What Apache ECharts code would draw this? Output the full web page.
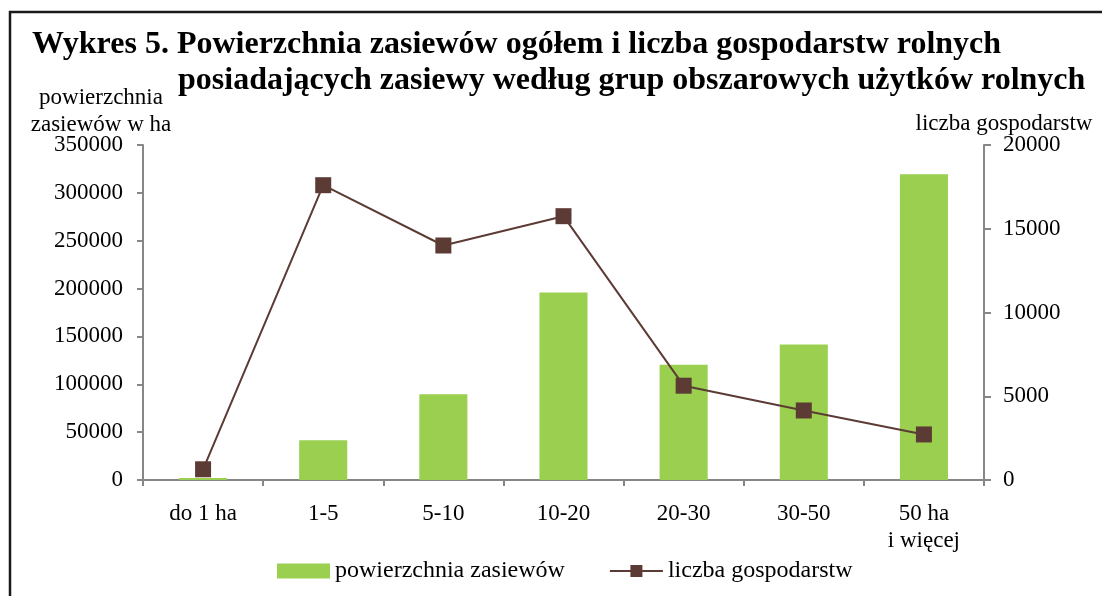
<!DOCTYPE html>
<html>
<head>
<meta charset="utf-8">
<script src="https://cdn.jsdelivr.net/npm/echarts@6/dist/echarts.min.js"></script>
<style>
  html, body { margin: 0; padding: 0; background: #fff; }
  #chart { width: 1102px; height: 596px; }
</style>
</head>
<body>
<div id="chart"></div>
<script>
// grupy obszarowe
var categories = ["do 1 ha", "1-5", "5-10", "10-20", "20-30", "30-50", "50 ha\ni więcej"];
// powierzchnia zasiewów w ha
var areaValues = [2000, 41500, 89500, 196000, 120500, 141500, 319500];
// liczba gospodarstw
var farmValues = [640, 17600, 14000, 15750, 5630, 4150, 2720];

var leftTicks = { min: 0, max: 350000, interval: 50000 };
var rightTicks = { min: 0, max: 20000, interval: 5000 };

var serif = "'Liberation Serif', 'Times New Roman', serif";
var axisGray = "#878787";
var fs = 23;

var myChart = echarts.init(document.getElementById("chart"));
var option = {
  animation: false,
  textStyle: { fontFamily: serif },
  title: [
    {
      text: "Wykres 5. Powierzchnia zasiewów ogółem i liczba gospodarstw rolnych",
      left: 32, top: 29, padding: 0,
      textStyle: { fontFamily: serif, fontSize: 32, fontWeight: "bold", color: "#000" }
    },
    {
      text: "posiadających zasiewy według grup obszarowych użytków rolnych",
      left: 178, top: 65, padding: 0,
      textStyle: { fontFamily: serif, fontSize: 32, fontWeight: "bold", color: "#000" }
    }
  ],
  graphic: [
    {
      type: "rect",
      shape: { x: 10, y: 12, width: 1200, height: 700 },
      style: { fill: "none", stroke: "#1a1a1a", lineWidth: 2.5 },
      silent: true
    }
  ],
  legend: {
    bottom: 8,
    left: 272,
    itemWidth: 53,
    itemHeight: 15,
    itemGap: 44,
    textStyle: { fontFamily: serif, fontSize: 24, color: "#000" },
    data: [
      { name: "powierzchnia zasiewów", icon: "rect" },
      { name: "liczba gospodarstw" }
    ]
  },
  grid: { left: 143, right: 118, top: 145, bottom: 116 },
  xAxis: {
    type: "category",
    data: categories,
    axisLine: { lineStyle: { color: axisGray, width: 2 } },
    axisTick: { show: true, length: 6, interval: 0, lineStyle: { color: axisGray, width: 2 } },
    axisLabel: { fontFamily: serif, fontSize: fs, color: "#000", margin: 20, lineHeight: 27, interval: 0 }
  },
  yAxis: [
    {
      type: "value",
      min: leftTicks.min, max: leftTicks.max, interval: leftTicks.interval,
      name: "powierzchnia\nzasiewów w ha",
      nameLocation: "end",
      nameGap: 7,
      nameMoveOverlap: false,
      nameTextStyle: { fontFamily: serif, fontSize: fs, color: "#000", align: "center",
        verticalAlign: "bottom", lineHeight: 27, padding: [0, 84, 0, 0] },
      axisLine: { show: true, lineStyle: { color: axisGray, width: 2 } },
      axisTick: { show: true, length: 6, lineStyle: { color: axisGray, width: 2 } },
      axisLabel: { fontFamily: serif, fontSize: fs, color: "#000", margin: 20,
        formatter: function (v) { return String(v); } },
      splitLine: { show: false }
    },
    {
      type: "value",
      min: rightTicks.min, max: rightTicks.max, interval: rightTicks.interval,
      name: "liczba gospodarstw",
      nameLocation: "end",
      nameGap: 10,
      nameMoveOverlap: false,
      nameTextStyle: { fontFamily: serif, fontSize: fs, color: "#000", align: "center",
        verticalAlign: "bottom", padding: [0, 0, 0, 40] },
      axisLine: { show: true, lineStyle: { color: axisGray, width: 2 } },
      axisTick: { show: true, length: 7, lineStyle: { color: axisGray, width: 2 } },
      axisLabel: { fontFamily: serif, fontSize: fs, color: "#000", margin: 19,
        formatter: function (v) { return String(v); } },
      splitLine: { show: false }
    }
  ],
  series: [
    {
      name: "powierzchnia zasiewów",
      type: "bar",
      yAxisIndex: 0,
      barWidth: "40%",
      itemStyle: { color: "#9acf4f" },
      data: areaValues
    },
    {
      name: "liczba gospodarstw",
      type: "line",
      yAxisIndex: 1,
      symbol: "rect",
      symbolSize: 16,
      lineStyle: { color: "#5c3b34", width: 2 },
      itemStyle: { color: "#5c3b34" },
      data: farmValues
    }
  ]
};
myChart.setOption(option);
</script>
</body>
</html>
